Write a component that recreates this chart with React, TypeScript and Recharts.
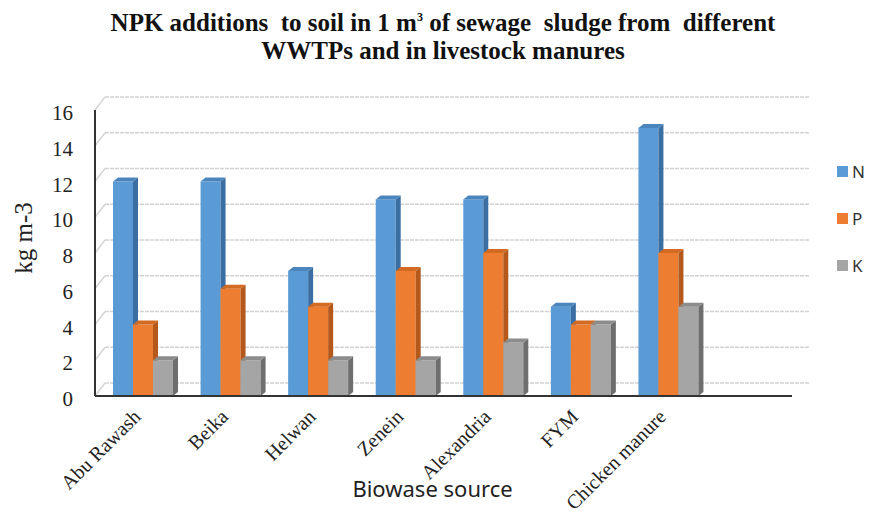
import { BarChart, Bar, XAxis, YAxis, CartesianGrid, Legend } from 'recharts'

const sources = ['Abu Rawash', 'Beika', 'Helwan', 'Zenein', 'Alexandria', 'FYM', 'Chicken manure']
const nValues = [12, 12, 7, 11, 11, 5, 15]
const pValues = [4, 6, 5, 7, 8, 4, 8]
const kValues = [2, 2, 2, 2, 3, 4, 5]
const yTicks = [0, 2, 4, 6, 8, 10, 12, 14, 16]

const data = sources.map((name, i) => ({ name, N: nValues[i], P: pValues[i], K: kValues[i] }))

const series = [
  { key: 'N', front: '#5B9BD5', side: '#3B6FA3', top: '#4A85BD' },
  { key: 'P', front: '#ED7D31', side: '#B5581B', top: '#D26A22' },
  { key: 'K', front: '#A5A5A5', side: '#6E6E6E', top: '#8C8C8C' },
]

const SERIF = 'Liberation Serif'

// fake 3d box: front face, darker right side and a top face
const Box = (props: any) => {
  const { x, y, width, height, front, side, top } = props
  if (!height || height <= 0) return null
  const dx = 5
  const dy = 4
  return (
    <g>
      <rect x={x} y={y} width={width} height={height} fill={front} />
      <polygon
        points={`${x + width},${y} ${x + width + dx},${y - dy} ${x + width + dx},${y + height - dy} ${x + width},${y + height}`}
        fill={side}
      />
      <polygon points={`${x},${y} ${x + dx},${y - dy} ${x + width + dx},${y - dy} ${x + width},${y}`} fill={top} />
    </g>
  )
}

// back-wall gridline, shifted into depth, with the little diagonal on the side wall
const WallLine = (props: any) => {
  const { x1, y1, x2, y2 } = props
  const ox = 10
  const oy = -13
  return (
    <g key={`wall-${y1}`}>
      <line x1={x1} y1={y1} x2={x1 + ox} y2={y1 + oy} stroke="#d2d2d2" strokeWidth={1.3} />
      <line x1={x1 + ox} y1={y1 + oy} x2={x2 + 18} y2={y2 + oy} stroke="#d2d2d2" strokeWidth={1.6} strokeDasharray="4 1" />
    </g>
  )
}

const SourceTick = (props: any) => {
  const { x, y, payload } = props
  const tx = x - 1
  const ty = y + 14
  return (
    <text
      x={tx}
      y={ty}
      transform={`rotate(-45 ${tx} ${ty})`}
      textAnchor="end"
      fontFamily={SERIF}
      fontSize={20}
      fill="#222"
    >
      {payload.value}
    </text>
  )
}

const ValueTick = (props: any) => {
  const { x, y, payload } = props
  return (
    <text x={x} y={y} dy={10} textAnchor="end" fontFamily={SERIF} fontSize={21} fill="#222">
      {payload.value}
    </text>
  )
}

const LegendBox = () => (
  <div style={{ fontFamily: 'Noto Sans', fontSize: 17, color: '#333' }}>
    {series.map((s) => (
      <div key={s.key} style={{ display: 'flex', alignItems: 'center', height: 47 }}>
        <span style={{ width: 11, height: 11, background: s.front, marginRight: 4 }} />
        <span>{s.key}</span>
      </div>
    ))}
  </div>
)

export default function App() {
  return (
    <div style={{ position: 'absolute', left: 0, top: 0, width: 870, height: 514, background: '#fff' }}>
      <div
        style={{
          position: 'absolute',
          top: 3,
          left: 0,
          width: 886,
          textAlign: 'center',
          fontFamily: SERIF,
          fontWeight: 'bold',
          fontSize: 25,
          lineHeight: '28px',
          color: '#111',
          zIndex: 2,
        }}
      >
        <div>
          NPK additions&nbsp; to soil in 1 m<sup style={{ fontSize: 12, verticalAlign: 10 }}>3</sup> of sewage&nbsp; sludge from&nbsp; different
        </div>
        <div>WWTPs and in livestock manures</div>
      </div>
      <div
        style={{
          position: 'absolute',
          left: 24,
          top: 238,
          transform: 'translate(-50%, -50%) rotate(-90deg)',
          fontFamily: SERIF,
          fontSize: 25,
          color: '#222',
          whiteSpace: 'nowrap',
          zIndex: 2,
        }}
      >
        kg m-3
      </div>
      <BarChart
        width={870}
        height={514}
        data={data}
        margin={{ top: 110, right: 78, bottom: 88, left: 0 }}
        barCategoryGap={14}
        barGap={0}
        style={{ position: 'absolute', left: 0, top: 0 }}
      >
        <CartesianGrid vertical={false} horizontal={(p: any) => <WallLine {...p} />} />
        <XAxis
          dataKey="name"
          height={30}
          interval={0}
          padding={{ left: 4, right: 80 }}
          axisLine={{ stroke: '#333', strokeWidth: 2 }}
          tickLine={false}
          tick={<SourceTick />}
          label={{
            content: (p: any) => (
              <text
                x={p.viewBox.x + p.viewBox.width / 2 - 11}
                y={497}
                textAnchor="middle"
                fontFamily="Noto Sans"
                fontSize={22}
                fill="#222"
              >
                Biowase source
              </text>
            ),
          }}
        />
        <YAxis
          width={95}
          domain={[0, 16]}
          ticks={yTicks}
          interval={0}
          axisLine={{ stroke: '#333', strokeWidth: 2 }}
          tickLine={false}
          tickSize={0}
          tickMargin={22}
          tick={<ValueTick />}
        />
        <Legend
          layout="vertical"
          align="center"
          verticalAlign="middle"
          content={<LegendBox />}
          wrapperStyle={{ left: 837, top: 148, width: 40 }}
        />
        {series.map((s) => (
          <Bar
            key={s.key}
            dataKey={s.key}
            isAnimationActive={false}
            fill={s.front}
            shape={(p: any) => <Box {...p} front={s.front} side={s.side} top={s.top} />}
          />
        ))}
      </BarChart>
    </div>
  )
}
